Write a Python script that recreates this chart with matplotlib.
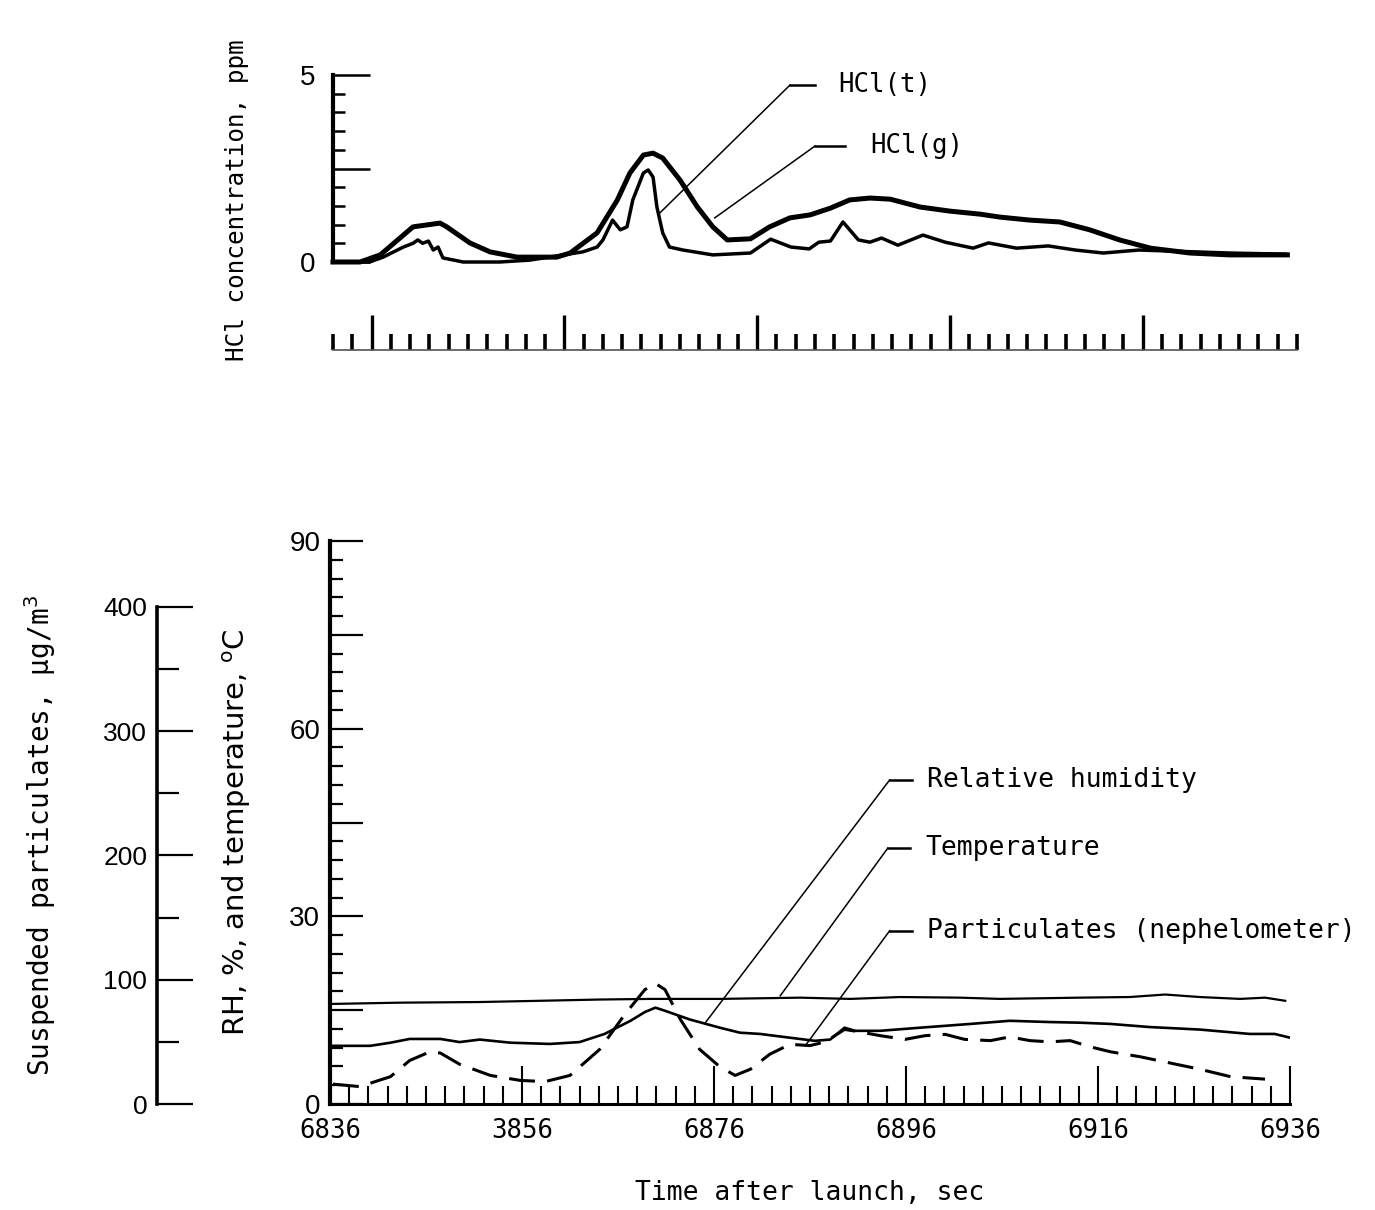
"""HCl, humidity, temperature and particulates versus time after launch."""
import matplotlib
matplotlib.use("Agg")
import matplotlib.pyplot as plt
from matplotlib.ticker import MultipleLocator, FixedLocator, FuncFormatter

# ---- data ---------------------------------------------------------------
hcl_t_time = [6836.0, 6839.8, 6841.2, 6843.3, 6844.3, 6844.8, 6845.3, 6845.9,
              6846.4, 6846.9, 6847.4, 6849.5, 6853.3, 6856.4, 6859.9, 6861.9,
              6863.4, 6864.0, 6865.0, 6865.8, 6866.5, 6867.1, 6868.2, 6868.7,
              6869.2, 6869.6, 6870.2, 6870.9, 6872.3, 6875.4, 6879.3,
              6881.4, 6883.5, 6885.4, 6886.4, 6887.6, 6888.9, 6890.5,
              6891.7, 6892.9, 6894.6, 6897.2, 6899.5, 6902.4, 6904.0, 6906.9,
              6910.2, 6913.0, 6915.9, 6919.6, 6923.2, 6929.0, 6934.8]
hcl_t_ppm = [0.0, 0.0, 0.13, 0.40, 0.50, 0.59, 0.50, 0.56,
             0.32, 0.40, 0.11, 0.0, 0.0, 0.05, 0.19, 0.27,
             0.40, 0.59, 1.12, 0.86, 0.94, 1.66, 2.38, 2.46,
             2.27, 1.47, 0.78, 0.40, 0.32, 0.19, 0.24,
             0.61, 0.40, 0.35, 0.53, 0.56, 1.07, 0.59,
             0.53, 0.64, 0.45, 0.72, 0.53, 0.37, 0.51, 0.37,
             0.43, 0.32, 0.24, 0.32, 0.29, 0.24, 0.21]

hcl_g_time = [6836.0, 6838.8, 6840.9, 6844.3, 6847.1, 6847.8, 6850.2,
              6852.3, 6855.1, 6859.2, 6860.6, 6863.4, 6865.5, 6866.8, 6868.2,
              6869.2, 6870.2, 6872.0, 6873.8, 6875.4, 6876.9, 6879.3, 6881.3,
              6883.4, 6885.5, 6887.6, 6889.6, 6891.7, 6893.8, 6896.9, 6900.0,
              6903.1, 6905.2, 6908.3, 6911.4, 6914.5, 6917.6, 6920.8, 6924.9,
              6929.0, 6935.0]
hcl_g_ppm = [0.0, 0.0, 0.19, 0.94, 1.04, 0.94, 0.51,
             0.27, 0.13, 0.13, 0.24, 0.78, 1.66, 2.38, 2.86,
             2.91, 2.78, 2.19, 1.47, 0.94, 0.59, 0.62, 0.94,
             1.18, 1.26, 1.44, 1.66, 1.71, 1.68, 1.47, 1.36,
             1.28, 1.20, 1.12, 1.07, 0.86, 0.59, 0.37, 0.24,
             0.19, 0.19]

temp_time = [6836.3, 6843.3, 6851.6, 6857.9, 6864.1, 6869.3, 6876.6, 6885.0,
             6890.2, 6895.4, 6901.6, 6905.8, 6914.1, 6919.3, 6923.0, 6926.6,
             6930.8, 6933.4, 6935.5]
temp_c = [16.0, 16.2, 16.3, 16.5, 16.7, 16.8, 16.8, 17.0,
          16.8, 17.1, 17.0, 16.8, 17.0, 17.1, 17.5, 17.1,
          16.8, 17.0, 16.5]

rh_time = [6836.3, 6840.2, 6842.3, 6844.3, 6847.5, 6849.5, 6851.6, 6854.8,
           6858.9, 6862.0, 6864.6, 6867.3, 6868.8, 6869.9, 6870.9, 6873.5,
           6876.6, 6878.7, 6880.8, 6883.9, 6886.5, 6888.1, 6889.6, 6890.7,
           6893.3, 6897.5, 6902.7, 6906.8, 6911.0, 6914.1, 6917.3, 6921.4,
           6926.6, 6931.8, 6934.4, 6936.0]
rh_pct = [9.3, 9.3, 9.8, 10.4, 10.4, 9.9, 10.3, 9.8,
          9.6, 9.9, 11.2, 13.3, 14.7, 15.4, 14.9, 13.5,
          12.2, 11.4, 11.2, 10.6, 10.1, 10.3, 12.2, 11.7,
          11.7, 12.2, 12.8, 13.3, 13.1, 13.0, 12.8, 12.3,
          11.9, 11.2, 11.2, 10.6]

part_time = [6836.3, 6839.1, 6842.3, 6844.3, 6846.4, 6847.5, 6849.5, 6852.7,
             6855.8, 6858.4, 6861.0, 6864.1, 6866.7, 6868.8, 6869.9, 6870.9,
             6872.5, 6874.5, 6876.6, 6878.2, 6879.8, 6881.8, 6883.9, 6886.0,
             6887.6, 6889.6, 6891.2, 6893.3, 6895.9, 6898.0, 6900.1, 6902.1,
             6904.8, 6906.8, 6908.9, 6911.0, 6913.1, 6915.2, 6917.3, 6920.4,
             6923.5, 6926.6, 6929.8, 6933.4]
part_ugm3 = [16, 14, 22, 35, 42, 41, 32, 23,
             19, 18, 23, 44, 72, 92, 97, 92,
             68, 44, 30, 23, 28, 40, 48, 47,
             50, 60, 58, 55, 52, 55, 56, 52,
             51, 54, 51, 50, 51, 46, 42, 38,
             33, 28, 22, 20]

xtick_values = [6836, 6856, 6876, 6896, 6916, 6936]
xtick_labels = ["6836", "3856", "6876", "6896", "6916", "6936"]

MONO = "DejaVu Sans Mono"
SANS = "Liberation Sans"
W, H = 1375, 1210
PT = 0.72  # points per pixel at dpi 100


def box(left, top, right, bottom):
    """Pixel box -> figure fraction rect."""
    return [left / W, 1 - bottom / H, (right - left) / W, (bottom - top) / H]


def leader(ax, tip, knee, end, text, gap=1.6, size=19):
    """Callout line: diagonal, short horizontal, then the label."""
    ax.plot([tip[0], knee[0]], [tip[1], knee[1]], color="black",
            lw=1.1, clip_on=False)
    ax.plot([knee[0], end], [knee[1], knee[1]], color="black",
            lw=1.8, clip_on=False)
    ax.text(end + gap, knee[1], text, fontfamily=MONO, fontsize=size,
            va="center", ha="left", clip_on=False)


def main():
    """Draw the figure."""
    fig = plt.figure(figsize=(W / 100, H / 100), dpi=100)

    # ---------------- top panel: HCl -----------------
    ax_top = fig.add_axes(box(333, 75, 1297, 262))
    ax_top.set_xlim(6836, 6936)
    ax_top.set_ylim(0, 5)
    for side in ("top", "right", "bottom"):
        ax_top.spines[side].set_visible(False)
    ax_top.spines["left"].set_linewidth(3.0)
    ax_top.xaxis.set_visible(False)
    ax_top.yaxis.set_major_locator(MultipleLocator(2.5))
    ax_top.yaxis.set_minor_locator(MultipleLocator(0.5))
    ax_top.yaxis.set_major_formatter(
        FuncFormatter(lambda v, p: "%d" % v if v in (0, 5) else ""))
    ax_top.tick_params(axis="y", which="major", direction="in",
                       length=37 * PT, width=1.8, pad=13, labelsize=20)
    ax_top.tick_params(axis="y", which="minor", direction="in",
                       length=12 * PT, width=1.8)
    for lab in ax_top.get_yticklabels():
        lab.set_fontfamily(SANS)

    ax_top.plot(hcl_g_time, hcl_g_ppm, color="black", lw=3.6,
                solid_joinstyle="round", clip_on=False)
    ax_top.plot(hcl_t_time, hcl_t_ppm, color="black", lw=2.5,
                solid_joinstyle="round", clip_on=False)
    leader(ax_top, (6869.9, 1.31), (6883.4, 4.73), 6886.0, "HCl(t)",
           gap=2.4, size=18.5)
    leader(ax_top, (6875.6, 1.18), (6886.0, 3.10), 6889.1, "HCl(g)",
           gap=2.6, size=18.5)

    fig.text(237 / W, 1 - 200 / H, "HCl concentration, ppm", rotation=90,
             fontfamily=MONO, fontsize=17.5, ha="center", va="center")

    # time strip under the top panel
    ax_strip = fig.add_axes(box(333, 300, 1297, 350))
    ax_strip.set_xlim(6836, 6936)
    ax_strip.set_ylim(0, 1)
    for side in ("top", "right", "left"):
        ax_strip.spines[side].set_visible(False)
    ax_strip.spines["bottom"].set_linewidth(1.2)
    ax_strip.spines["bottom"].set_color("#555555")
    ax_strip.yaxis.set_visible(False)
    ax_strip.xaxis.set_major_locator(MultipleLocator(20))
    ax_strip.xaxis.set_minor_locator(MultipleLocator(2))
    ax_strip.tick_params(axis="x", which="major", direction="in",
                         length=35 * PT, width=2.4, labelbottom=False)
    ax_strip.tick_params(axis="x", which="minor", direction="in",
                         length=16 * PT, width=2.6)

    # ---------------- bottom panel -----------------
    ax = fig.add_axes(box(330, 541, 1290, 1104))
    ax.set_xlim(6836, 6936)
    ax.set_ylim(0, 90)
    ax.spines["top"].set_visible(False)
    ax.spines["right"].set_visible(False)
    ax.spines["left"].set_linewidth(3.0)
    ax.spines["bottom"].set_linewidth(2.2)

    ax.xaxis.set_major_locator(FixedLocator(xtick_values))
    ax.xaxis.set_minor_locator(MultipleLocator(2))
    ax.set_xticklabels(xtick_labels)
    ax.tick_params(axis="x", which="major", direction="in", length=38 * PT,
                   width=1.5, pad=10, labelsize=18.5)
    ax.tick_params(axis="x", which="minor", direction="in", length=18 * PT,
                   width=1.5)
    for lab in ax.get_xticklabels():
        lab.set_fontfamily(MONO)

    ax.yaxis.set_major_locator(MultipleLocator(15))
    ax.yaxis.set_minor_locator(MultipleLocator(3))
    ax.yaxis.set_major_formatter(
        FuncFormatter(lambda v, p: "%d" % v if v % 30 == 0 else ""))
    ax.tick_params(axis="y", which="major", direction="in", length=33 * PT,
                   width=1.6, pad=7, labelsize=20)
    ax.tick_params(axis="y", which="minor", direction="in", length=13 * PT,
                   width=1.6)
    for lab in ax.get_yticklabels():
        lab.set_fontfamily(SANS)

    ax.plot(temp_time, temp_c, color="black", lw=1.6)
    ax.plot(rh_time, rh_pct, color="black", lw=1.9)

    ax.set_xlabel("Time after launch, sec", fontfamily=MONO, fontsize=19,
                  labelpad=26)

    leader(ax, (6875.1, 13.0), (6894.3, 51.8), 6896.6, "Relative humidity")
    leader(ax, (6882.9, 17.3), (6894.1, 40.9), 6896.4, "Temperature")
    leader(ax, (6885.5, 9.3), (6894.3, 27.7), 6896.6,
           "Particulates (nephelometer)")

    # particulates scale, detached to the left
    ax_p = ax.twinx()
    ax_p.set_ylim(0, 453)
    for side in ("top", "right", "bottom"):
        ax_p.spines[side].set_visible(False)
    ax_p.spines["left"].set_visible(True)
    ax_p.spines["left"].set_position(("outward", 173 * PT))
    ax_p.spines["left"].set_bounds(0, 400)
    ax_p.spines["left"].set_linewidth(2.6)
    ax_p.yaxis.set_ticks_position("left")
    ax_p.yaxis.set_label_position("left")
    ax_p.yaxis.set_major_locator(FixedLocator([0, 100, 200, 300, 400]))
    ax_p.yaxis.set_minor_locator(FixedLocator([50, 150, 250, 350]))
    ax_p.tick_params(axis="y", which="major", direction="in", length=36 * PT,
                     width=1.6, pad=7, labelsize=19)
    ax_p.tick_params(axis="y", which="minor", direction="in", length=22 * PT,
                     width=1.6)
    for lab in ax_p.get_yticklabels():
        lab.set_fontfamily(SANS)
    ax_p.plot(part_time, part_ugm3, color="black", lw=2.2,
              dashes=(8.5, 4.0))

    fig.text(237 / W, 1 - 832 / H,
             "RH, %, and temperature, $^{\\mathrm{o}}$C", rotation=90,
             fontfamily="DejaVu Sans", fontsize=21, ha="center",
             va="center")
    fig.text(40 / W, 1 - 836 / H, "Suspended particulates, \u03bcg/m$^3$",
             rotation=90, fontfamily=MONO, fontsize=20, ha="center",
             va="center")

    fig.savefig("out.png", dpi=100)


if __name__ == "__main__":
    main()
